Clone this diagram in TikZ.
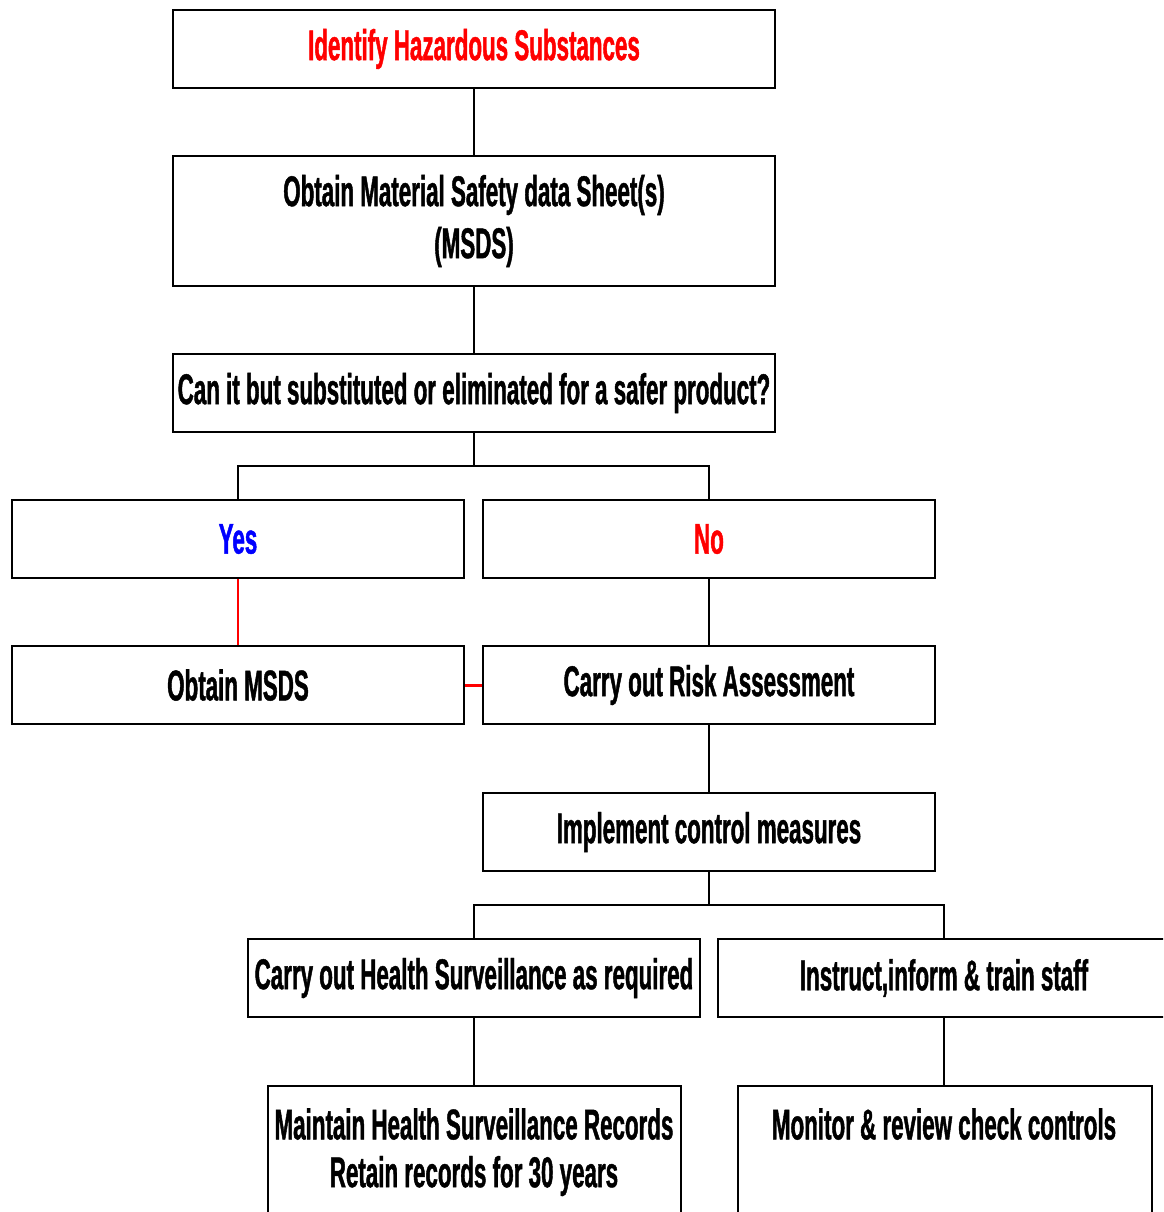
\documentclass[tikz,border=0pt]{standalone}
\usepackage{fontspec}
\newfontfamily\boxfont[FakeStretch=0.52,FakeBold=1]{Liberation Sans}
\begin{document}
\begin{tikzpicture}[x=1pt,y=-1pt,
  lbl/.style={font=\boxfont\bfseries\fontsize{43}{52}\selectfont, align=center, inner sep=0pt},
  box/.style={lbl, draw, line width=2pt, minimum height=78pt},
  wide/.style={box, minimum width=602pt},
  half/.style={box, minimum width=452pt},
  link/.style={line width=2pt},
  redlink/.style={red, line width=1.5pt}]
\useasboundingbox (0,0) rectangle (1163,1212);
\fill[white] (0,0) rectangle (1163,1212);
\clip (0,0) rectangle (1163,1212);

% boxes of the chart
\node[wide, text=red] (ident) at (474,49) {Identify Hazardous Substances};
\node[wide, minimum height=130pt] (msds) at (474,221) {Obtain Material Safety data Sheet(s)\\(MSDS)};
\node[wide] (subst) at (474,393) {Can it but substituted or eliminated for a safer product?};
\node[half, text=blue] (yes) at (238,539) {Yes};
\node[half, text=red] (no) at (709,539) {No};
\node[half] (obtain) at (238,685) {Obtain MSDS};
\node[half] (risk) at (709,685) {Carry out Risk Assessment};
\node[half] (impl) at (709,832) {Implement control measures};
\node[half] (health) at (474,978) {Carry out Health Surveillance as required};
\node[half] (instr) at (944,978) {Instruct,inform \& train staff};
\node[box, minimum width=413pt, minimum height=200pt, anchor=north] (records) at (474.5,1085) {};
\node[box, minimum width=414pt, minimum height=200pt, anchor=north] (monitor) at (945,1085) {};
\node[lbl] (rec1) at (474,1124) {Maintain Health Surveillance Records};
\node[lbl] (rec2) at (474,1176) {Retain records for 30 years};
\node[lbl] (mon1) at (944,1124) {Monitor \& review check controls};

% connectors
\coordinate (j1) at (474,466);
\coordinate (j2) at (709,905);
\draw[link] (ident) -- (msds);
\draw[link] (msds) -- (subst);
\draw[link] (subst.south) -- (j1);
\draw[link] (yes.north) |- (j1) -| (no.north);
\draw[redlink] (yes) -- (obtain);
\draw[red, line width=3pt] (obtain.east) -- (risk.west);
\draw[link] (no) -- (risk);
\draw[link] (risk) -- (impl);
\draw[link] (impl.south) -- (j2);
\draw[link] (health.north) |- (j2) -| (instr.north);
\draw[link] (health.south) -- (health.south |- records.north);
\draw[link] (instr.south) -- (instr.south |- monitor.north);
\end{tikzpicture}
\end{document}
